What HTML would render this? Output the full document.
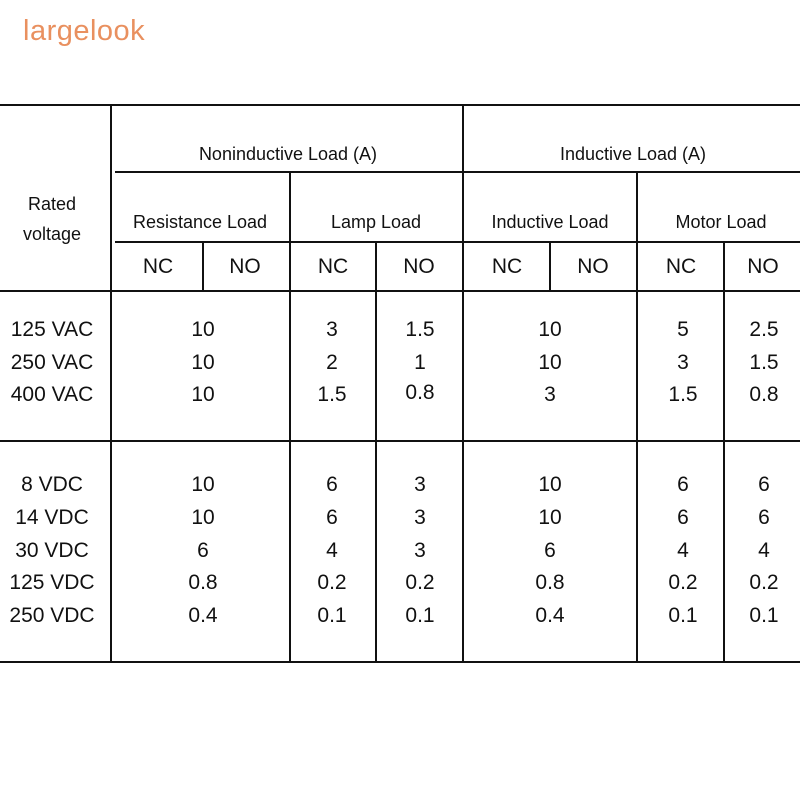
<!DOCTYPE html>
<html><head><style>
body{margin:0;background:#fff;}
svg text{font-family:"Liberation Sans",sans-serif;fill:#111;}
</style></head><body>
<svg width="800" height="800" viewBox="0 0 800 800" xmlns="http://www.w3.org/2000/svg">
<rect width="800" height="800" fill="#fff"/>
<text x="23" y="40" font-size="29" style="fill:#e9905f" letter-spacing="0.5">largelook</text>
<g stroke="#111" stroke-width="2">
<line x1="0" y1="105" x2="800" y2="105"/>
<line x1="0" y1="291" x2="800" y2="291"/>
<line x1="0" y1="441" x2="800" y2="441"/>
<line x1="0" y1="662" x2="800" y2="662"/>
<line x1="115" y1="172" x2="800" y2="172"/>
<line x1="115" y1="242" x2="800" y2="242"/>
<line x1="111" y1="105" x2="111" y2="662"/>
<line x1="463" y1="105" x2="463" y2="662"/>
<line x1="290" y1="172" x2="290" y2="662"/>
<line x1="637" y1="172" x2="637" y2="662"/>
<line x1="376" y1="242" x2="376" y2="441"/>
<line x1="724" y1="242" x2="724" y2="441"/>
<line x1="203" y1="242" x2="203" y2="291"/>
<line x1="550" y1="242" x2="550" y2="291"/>
<line x1="376" y1="441" x2="376" y2="662"/>
<line x1="724" y1="441" x2="724" y2="662"/>
</g>
<g font-size="18" text-anchor="middle">
<text x="288" y="160">Noninductive Load (A)</text>
<text x="633" y="160">Inductive Load (A)</text>
<text x="52" y="210">Rated</text>
<text x="52" y="240">voltage</text>
<text x="200" y="228">Resistance Load</text>
<text x="376" y="228">Lamp Load</text>
<text x="550" y="228">Inductive Load</text>
<text x="721" y="228">Motor Load</text>
</g>
<g font-size="21" text-anchor="middle">
<text x="158" y="273">NC</text><text x="245" y="273">NO</text>
<text x="333" y="273">NC</text><text x="419" y="273">NO</text>
<text x="507" y="273">NC</text><text x="593" y="273">NO</text>
<text x="681" y="273">NC</text><text x="763" y="273">NO</text>
</g>
<g font-size="21" text-anchor="middle">
<text x="52" y="336">125 VAC</text><text x="52" y="369">250 VAC</text><text x="52" y="401">400 VAC</text>
<text x="52" y="491">8 VDC</text><text x="52" y="524">14 VDC</text><text x="52" y="557">30 VDC</text><text x="52" y="589">125 VDC</text><text x="52" y="622">250 VDC</text>
<text x="203" y="336">10</text><text x="203" y="369">10</text><text x="203" y="401">10</text>
<text x="332" y="336">3</text><text x="332" y="369">2</text><text x="332" y="401">1.5</text>
<text x="420" y="336">1.5</text><text x="420" y="369">1</text><text x="420" y="399">0.8</text>
<text x="550" y="336">10</text><text x="550" y="369">10</text><text x="550" y="401">3</text>
<text x="683" y="336">5</text><text x="683" y="369">3</text><text x="683" y="401">1.5</text>
<text x="764" y="336">2.5</text><text x="764" y="369">1.5</text><text x="764" y="401">0.8</text>
<text x="203" y="491">10</text><text x="203" y="524">10</text><text x="203" y="557">6</text><text x="203" y="589">0.8</text><text x="203" y="622">0.4</text>
<text x="332" y="491">6</text><text x="332" y="524">6</text><text x="332" y="557">4</text><text x="332" y="589">0.2</text><text x="332" y="622">0.1</text>
<text x="420" y="491">3</text><text x="420" y="524">3</text><text x="420" y="557">3</text><text x="420" y="589">0.2</text><text x="420" y="622">0.1</text>
<text x="550" y="491">10</text><text x="550" y="524">10</text><text x="550" y="557">6</text><text x="550" y="589">0.8</text><text x="550" y="622">0.4</text>
<text x="683" y="491">6</text><text x="683" y="524">6</text><text x="683" y="557">4</text><text x="683" y="589">0.2</text><text x="683" y="622">0.1</text>
<text x="764" y="491">6</text><text x="764" y="524">6</text><text x="764" y="557">4</text><text x="764" y="589">0.2</text><text x="764" y="622">0.1</text>
</g>
</svg>
</body></html>
